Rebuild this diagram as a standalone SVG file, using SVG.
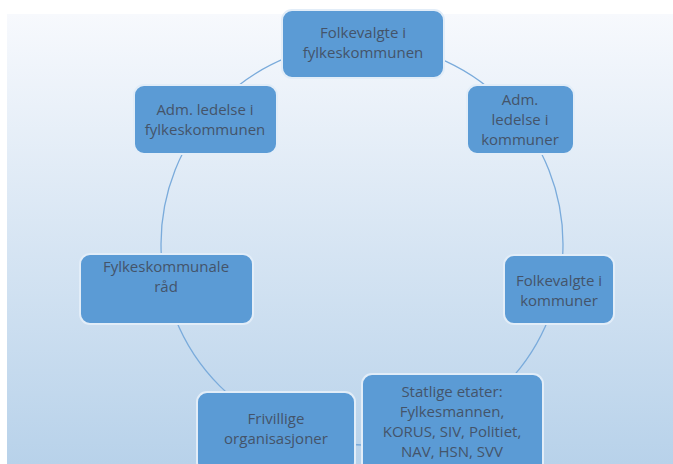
<svg xmlns="http://www.w3.org/2000/svg" width="673" height="464" viewBox="0 0 673 464">
<defs>
<linearGradient id="bg" x1="0" y1="0" x2="0" y2="1">
<stop offset="0" stop-color="#f7f9fd"/>
<stop offset="1" stop-color="#b8d2ea"/>
</linearGradient>
<style>
.box{fill:#5b9bd5;stroke:#e2edf8;stroke-width:2}
.t{font-family:"Open Sans","Liberation Sans",sans-serif;font-size:15px;fill:#44546a;text-anchor:middle}
.ring{fill:none;stroke:#7aabdb;stroke-width:1.3}
</style>
</defs>
<rect x="0" y="0" width="673" height="464" fill="#ffffff"/>
<rect x="7" y="14" width="666" height="450" fill="url(#bg)"/>
<g id="connectors">
<circle class="ring" cx="362" cy="244" r="201"/>
</g>
<g id="n1">
<rect class="box" x="282" y="10" width="162" height="68" rx="10"/>
<text class="t" x="363" y="38">Folkevalgte i</text>
<text class="t" x="363" y="58">fylkeskommunen</text>
</g>
<g id="n2">
<rect class="box" x="467" y="85" width="107" height="69" rx="10"/>
<text class="t" x="520" y="105">Adm.</text>
<text class="t" x="520" y="125">ledelse i</text>
<text class="t" x="520" y="145">kommuner</text>
</g>
<g id="n3">
<rect class="box" x="504" y="255" width="110" height="69" rx="10"/>
<text class="t" x="559" y="286">Folkevalgte i</text>
<text class="t" x="559" y="306">kommuner</text>
</g>
<g id="n4">
<rect class="box" x="362" y="374" width="181" height="100" rx="10"/>
<text class="t" x="452" y="397">Statlige etater:</text>
<text class="t" x="452" y="417">Fylkesmannen,</text>
<text class="t" x="452" y="437">KORUS, SIV, Politiet,</text>
<text class="t" x="452" y="457">NAV, HSN, SVV</text>
</g>
<g id="n5">
<rect class="box" x="197" y="392" width="158" height="80" rx="10"/>
<text class="t" x="276" y="424">Frivillige</text>
<text class="t" x="276" y="444">organisasjoner</text>
</g>
<g id="n6">
<rect class="box" x="80" y="254" width="173" height="70" rx="10"/>
<text class="t" x="166" y="272">Fylkeskommunale</text>
<text class="t" x="166" y="292">råd</text>
</g>
<g id="n7">
<rect class="box" x="134" y="85" width="143" height="69" rx="10"/>
<text class="t" x="205" y="115">Adm. ledelse i</text>
<text class="t" x="205" y="135">fylkeskommunen</text>
</g>
</svg>
